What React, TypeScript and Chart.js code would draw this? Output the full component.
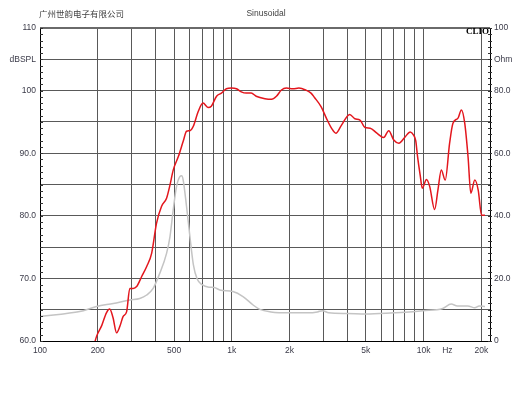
import React, { useEffect, useRef } from 'react';
import { Chart, registerables } from 'chart.js';
Chart.register(...registerables);

const titleLeft = '广州世韵电子有限公司';
const titleCenter = 'Sinusoidal';
const brand = 'CLIO';

const splFreq = [185, 197, 210, 222, 231, 240, 251, 262, 271, 283, 294, 306, 319, 339, 360, 382, 405, 430, 457, 476, 495, 527, 558, 581, 605, 630, 669, 708, 752, 782, 833, 883, 937, 995, 1057, 1121, 1189, 1263, 1340, 1489, 1612, 1710, 1815, 1926, 2085, 2238, 2426, 2589, 2700, 2925, 3112, 3310, 3490, 3720, 4121, 4382, 4660, 4955, 5270, 5710, 6190, 6580, 6990, 7430, 8010, 8520, 8870, 9100, 9300, 9600, 9850, 10350, 10760, 11420, 11880, 12370, 12970, 13670, 14230, 15120, 15740, 16390, 17060, 17630, 18500, 19270, 20070, 20900];
const splDb = [57.5, 60.7, 62.5, 64.5, 65.1, 63.8, 61.3, 62.5, 63.9, 64.7, 68.4, 68.4, 68.7, 70.3, 71.9, 74.0, 78.8, 81.5, 82.8, 84.9, 87.3, 89.5, 91.9, 93.5, 93.6, 94.3, 96.7, 98.0, 97.3, 97.5, 99.1, 99.6, 100.3, 100.4, 100.3, 99.8, 99.6, 99.6, 99.1, 98.7, 98.6, 99.1, 100.1, 100.4, 100.3, 100.4, 100.1, 99.6, 98.9, 97.4, 95.6, 94.0, 93.2, 94.4, 96.2, 95.5, 95.3, 94.1, 94.0, 93.2, 92.5, 93.6, 92.1, 91.6, 92.6, 93.4, 92.9, 92.0, 89.5, 86.5, 84.4, 85.8, 84.7, 81.0, 84.1, 87.3, 85.7, 91.6, 94.8, 95.6, 96.9, 94.8, 89.4, 83.6, 85.7, 84.1, 80.1, 80.1];

const impFreq = [100, 125, 161, 197, 241, 294, 331, 360, 389, 421, 457, 476, 495, 515, 536, 548, 558, 581, 605, 630, 660, 700, 760, 810, 866, 1013, 1144, 1292, 1400, 1600, 2000, 2500, 2800, 2970, 3200, 4000, 5000, 7000, 8000, 9900, 12580, 13930, 15000, 17000, 18500, 19500, 20900];
const impOhm = [7.8, 8.5, 9.4, 11.0, 12.0, 13.1, 13.6, 14.7, 16.8, 21.6, 28.0, 33.3, 41.9, 49.3, 52.5, 52.8, 51.4, 42.9, 33.3, 24.5, 19.8, 18.0, 17.2, 17.1, 16.3, 15.8, 14.2, 11.5, 10.1, 9.3, 9.0, 9.0, 9.3, 9.7, 9.0, 8.8, 8.6, 9.0, 9.2, 9.7, 10.4, 11.8, 11.2, 11.2, 10.6, 11.2, 11.0];

const xTicks = [100, 200, 300, 400, 500, 600, 700, 800, 900, 1000, 2000, 3000, 4000, 5000, 6000, 7000, 8000, 9000, 10000, 13300, 20000];
const xLabels: Record<number, string> = { 100: '100', 200: '200', 500: '500', 1000: '1k', 2000: '2k', 5000: '5k', 10000: '10k', 13300: 'Hz', 20000: '20k' };
const dbTicks = [60, 65, 70, 75, 80, 85, 90, 95, 100, 105, 110];
const dbLabels: Record<number, string> = { 60: '60.0', 70: '70.0', 80: '80.0', 90: '90.0', 100: '100', 105: 'dBSPL', 110: '110' };
const ohmTicks = [0, 20, 40, 60, 80, 90, 100];
const ohmLabels: Record<number, string> = { 0: '0', 20: '20.0', 40: '40.0', 60: '60.0', 80: '80.0', 90: 'Ohm', 100: '100' };

const FONT = "'Liberation Sans', Arial, sans-serif";
const GRID = '#595959';
const TXT = '#3a3a48';

const decorPlugin = {
  id: 'decor',
  afterDraw(chart: any) {
    const { ctx, chartArea: a, scales } = chart;
    ctx.save();
    ctx.strokeStyle = '#6a6a6a';
    ctx.lineWidth = 2;
    ctx.beginPath();
    ctx.moveTo(a.left, a.top);
    ctx.lineTo(a.right, a.top);
    ctx.stroke();
    ctx.strokeStyle = '#000';
    ctx.lineWidth = 1;
    ctx.beginPath();
    ctx.moveTo(a.left + 0.5, a.top);
    ctx.lineTo(a.left + 0.5, a.bottom + 0.5);
    ctx.lineTo(a.right + 0.5, a.bottom + 0.5);
    ctx.lineTo(a.right + 0.5, a.top);
    ctx.stroke();
    ctx.strokeStyle = '#333';
    ctx.beginPath();
    for (let v = 60; v <= 110; v += 1) {
      const py = Math.round(scales.y.getPixelForValue(v)) + 0.5;
      ctx.moveTo(a.left, py);
      ctx.lineTo(a.left + 3, py);
    }
    for (let v = 0; v <= 100; v += 2) {
      const py = Math.round(scales.y2.getPixelForValue(v)) + 0.5;
      ctx.moveTo(a.right - 2, py);
      ctx.lineTo(a.right + 2, py);
    }
    ctx.stroke();
    ctx.fillStyle = '#444';
    ctx.textBaseline = 'middle';
    ctx.textAlign = 'left';
    ctx.font = "8.5px 'Noto Sans CJK SC'";
    ctx.fillText(titleLeft, 39, 14);
    ctx.textAlign = 'center';
    ctx.font = '8.5px ' + FONT;
    ctx.fillText(titleCenter, 266, 14);
    ctx.textAlign = 'right';
    ctx.fillStyle = '#000';
    ctx.font = "bold 9px 'Liberation Serif', serif";
    ctx.fillText(brand, a.right - 1, a.top + 4);
    ctx.restore();
  },
};

export default function App() {
  const ref = useRef<HTMLCanvasElement>(null);
  useEffect(() => {
    if (!ref.current) return;
    const chart = new Chart(ref.current, {
      type: 'line',
      data: {
        datasets: [
          {
            label: 'SPL',
            data: splFreq.map((f, i) => ({ x: f, y: splDb[i] })),
            borderColor: '#e3161d',
            borderWidth: 1.5,
            pointRadius: 0,
            cubicInterpolationMode: 'monotone',
            yAxisID: 'y',
          },
          {
            label: 'Impedance',
            data: impFreq.map((f, i) => ({ x: f, y: impOhm[i] })),
            borderColor: '#c4c4c4',
            borderWidth: 1.5,
            pointRadius: 0,
            cubicInterpolationMode: 'monotone',
            yAxisID: 'y2',
          },
        ],
      },
      options: {
        responsive: false,
        animation: false,
        layout: { padding: { top: 28, left: 0, right: 0, bottom: 0 } },
        plugins: { legend: { display: false }, tooltip: { enabled: false }, title: { display: false } },
        scales: {
          x: {
            type: 'logarithmic',
            min: 100,
            max: 22200,
            afterBuildTicks: (s: any) => { s.ticks = xTicks.map((v) => ({ value: v })); },
            afterFit: (s: any) => { s.height = 57; },
            grid: {
              drawTicks: false,
              color: (c: any) => (c.tick && c.tick.value === 13300 ? 'rgba(0,0,0,0)' : GRID),
            },
            border: { display: false },
            ticks: {
              autoSkip: false,
              maxRotation: 0,
              padding: 5,
              color: TXT,
              font: { family: FONT, size: 8.5 },
              callback: (v: any) => xLabels[Number(v)] ?? '',
            },
          },
          y: {
            type: 'linear',
            position: 'left',
            min: 60,
            max: 110,
            afterBuildTicks: (s: any) => { s.ticks = dbTicks.map((v) => ({ value: v })); },
            afterFit: (s: any) => { s.width = 40; },
            grid: { drawTicks: false, color: GRID },
            border: { display: false },
            ticks: {
              padding: 4,
              color: TXT,
              font: { family: FONT, size: 8.5 },
              callback: (v: any) => dbLabels[Number(v)] ?? '',
            },
          },
          y2: {
            type: 'linear',
            position: 'right',
            min: 0,
            max: 100,
            afterBuildTicks: (s: any) => { s.ticks = ohmTicks.map((v) => ({ value: v })); },
            afterFit: (s: any) => { s.width = 40; },
            grid: { drawTicks: false, drawOnChartArea: false },
            border: { display: false },
            ticks: {
              padding: 4,
              color: TXT,
              font: { family: FONT, size: 8.5 },
              callback: (v: any) => ohmLabels[Number(v)] ?? '',
            },
          },
        },
      },
      plugins: [decorPlugin],
    } as any);
    return () => chart.destroy();
  }, []);
  return (
    <div style={{ position: 'absolute', left: 0, top: 0, width: 530, height: 398, background: '#fff' }}>
      <canvas ref={ref} width={530} height={398} />
    </div>
  );
}
